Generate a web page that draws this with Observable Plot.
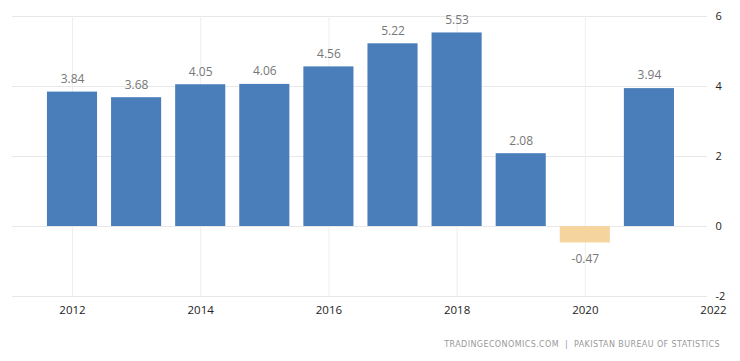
<!DOCTYPE html>
<html>
<head>
<meta charset="utf-8">
<script src="https://cdn.jsdelivr.net/npm/d3@7"></script>
<script src="https://cdn.jsdelivr.net/npm/@observablehq/plot@0.6"></script>
<style>
  html, body { margin: 0; padding: 0; background: #fff; }
  #wrap { position: relative; width: 740px; height: 361px; overflow: hidden; }
  #caption { position: absolute; top: 340px; right: 20px; font-family: "DejaVu Sans", sans-serif; font-size: 8px; letter-spacing: 0.4px; color: #999; white-space: nowrap; }
</style>
</head>
<body>
<div id="wrap"><div id="chart"></div><div id="caption">TRADINGECONOMICS.COM &nbsp;|&nbsp; PAKISTAN BUREAU OF STATISTICS</div></div>
<script>
const years = [2012, 2013, 2014, 2015, 2016, 2017, 2018, 2019, 2020, 2021];
const values = [3.84, 3.68, 4.05, 4.06, 4.56, 5.22, 5.53, 2.08, -0.47, 3.94];
const xTicks = [2012, 2014, 2016, 2018, 2020, 2022];
const yTicks = [-2, 0, 2, 4, 6];

const data = years.map((year, i) => ({year, value: values[i]}));
const pos = data.filter(d => d.value >= 0);
const neg = data.filter(d => d.value < 0);

const chart = Plot.plot({
  width: 740,
  height: 330,
  marginTop: 16,
  marginBottom: 34,
  marginLeft: 12,
  marginRight: 33,
  style: {fontFamily: "'Open Sans', sans-serif", fontSize: "12px", background: "#fff"},
  x: {type: "linear", domain: [2011.064, 2021.906], axis: null},
  y: {domain: [-2, 6], axis: null},
  marks: [
    Plot.ruleY(yTicks, {stroke: "#e8e8e8", strokeWidth: 1}),
    Plot.ruleX(xTicks.filter(t => t <= 2021), {y1: -2, y2: 6, stroke: "#eeeeee", strokeWidth: 1}),
    Plot.rectY(data, {
      x1: d => d.year - 0.5, x2: d => d.year + 0.5, y1: 0, y2: "value",
      insetLeft: 7, insetRight: 7,
      fill: d => d.value >= 0 ? "#4a7ebb" : "#f5d49e"
    }),
    Plot.text(pos, {x: "year", y: "value", text: d => d.value.toFixed(2), dy: -13, fill: "#777", fontSize: 12}),
    Plot.text(neg, {x: "year", y: "value", text: d => d.value.toFixed(2), dy: 16, fill: "#777", fontSize: 12}),
    Plot.text(yTicks, {y: d => d, text: d => String(d), frameAnchor: "right", textAnchor: "start", dx: 8, fill: "#222", fontSize: 11}),
    Plot.text(xTicks, {x: d => d, text: d => String(d), frameAnchor: "bottom", dy: 17, fill: "#222", fontSize: 11.5})
  ]
});
document.getElementById("chart").appendChild(chart);
</script>
</body>
</html>
